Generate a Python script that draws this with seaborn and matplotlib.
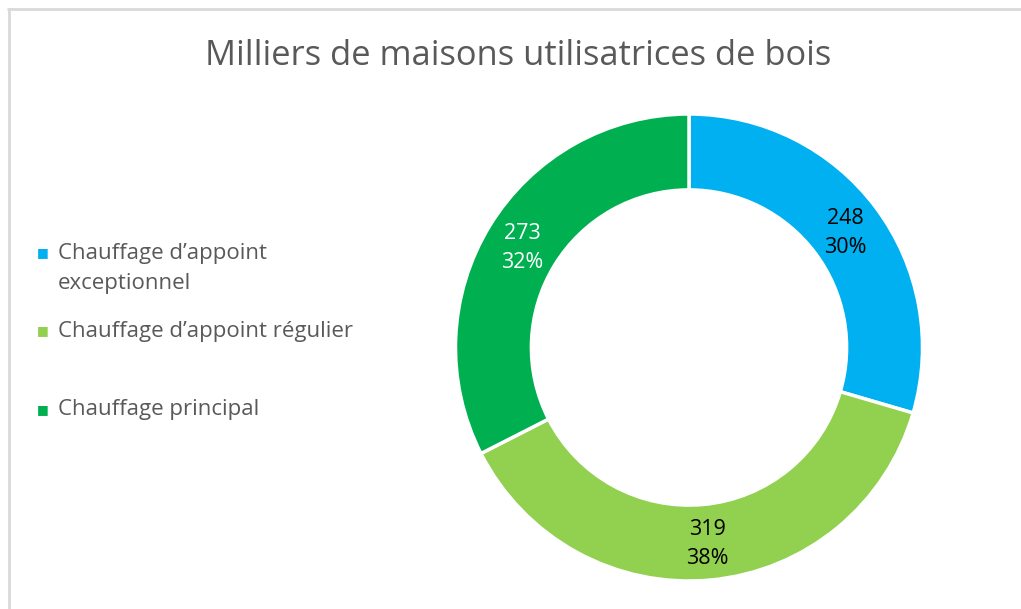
import matplotlib
matplotlib.use("Agg")
import matplotlib.pyplot as plt
from matplotlib.lines import Line2D
import numpy as np
import seaborn as sns

# Données
categories = ["Chauffage d\u2019appoint exceptionnel",
              "Chauffage d\u2019appoint r\u00e9gulier",
              "Chauffage principal"]
legend_labels = ["Chauffage d\u2019appoint\nexceptionnel",
                 "Chauffage d\u2019appoint r\u00e9gulier",
                 "Chauffage principal"]
values = [248, 319, 273]
percent_labels = ["30%", "38%", "32%"]
colors = ["#00B0F0", "#92D050", "#00B050"]
label_colors = ["black", "black", "white"]

sns.set_style("white")
plt.rcParams['font.family'] = ['Open Sans', 'DejaVu Sans']

W, H = 1021, 609
fig = plt.figure(figsize=(W / 100, H / 100), dpi=100)

# cadre gris (haut et gauche)
fig.add_artist(Line2D([8 / W, 1], [1 - 8.5 / H, 1 - 8.5 / H], color="#D9D9D9", lw=2))
fig.add_artist(Line2D([8.5 / W, 8.5 / W], [0, 1 - 8.5 / H], color="#D9D9D9", lw=2))

# anneau
cx, cy, R = 689, 347.5, 233.5
ax = fig.add_axes([(cx - R) / W, (H - cy - R) / H, 2 * R / W, 2 * R / H])
wedges, _ = ax.pie(values, colors=colors, startangle=90, counterclock=False,
                   radius=1, wedgeprops=dict(width=0.325, edgecolor="white", linewidth=2.5))
ax.set_xlim(-1, 1)
ax.set_ylim(-1, 1)
ax.set_aspect("equal")
ax.axis("off")

total = sum(values)
start = 90.0
for v, p, c in zip(values, percent_labels, label_colors):
    span = v / total * 360
    mid = np.deg2rad(start - span / 2)
    r = 0.837
    ax.text(r * np.cos(mid), r * np.sin(mid) - 0.01, f"{v}\n{p}", ha="center", va="center",
            fontsize=15.5, color=c, linespacing=1.5)
    start -= span

# titre
fig.text(518 / W, 1 - 56 / H, "Milliers de maisons utilisatrices de bois",
         ha="center", va="center", fontsize=24.8, color="#595959")

# légende
legend_y = [253, 331, 410]
for lab, col, y in zip(legend_labels, colors, legend_y):
    fig.text(37 / W, 1 - y / H, "\u25A0", ha="left", va="center", fontsize=9, color=col)
    for i, line in enumerate(lab.split("\n")):
        fig.text(58 / W, 1 - (y + i * 31) / H, line, ha="left", va="center",
                 fontsize=16, color="#595959")

fig.savefig("out.png", dpi=100)
